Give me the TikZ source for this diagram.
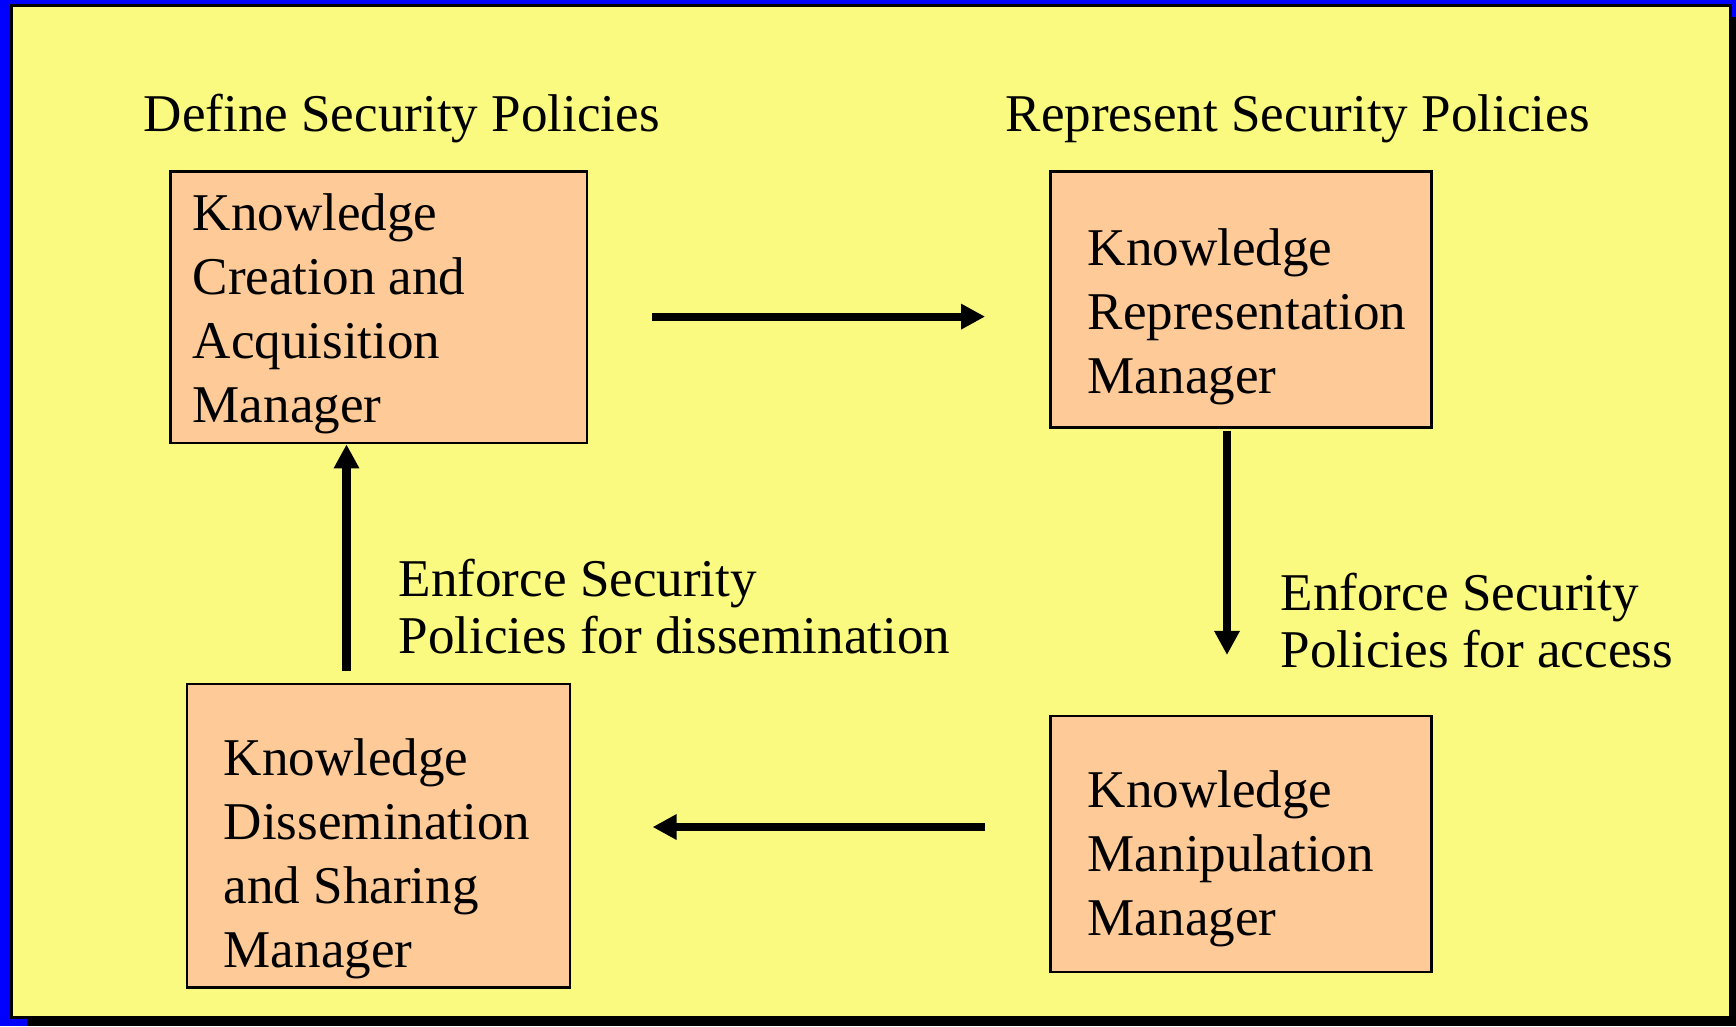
\documentclass[tikz,border=0pt]{standalone}
\usepackage{fontspec}
\setmainfont{Liberation Serif}
\usetikzlibrary{arrows.meta}
\definecolor{bgblue}{RGB}{0,0,255}
\definecolor{slide}{RGB}{250,250,128}
\definecolor{peach}{RGB}{253,202,152}
\tikzstyle{box}=[rectangle, draw, fill=peach, line width=0.7pt, inner sep=0pt]
\tikzstyle{txt}=[anchor=base west, align=left, inner sep=0pt, font=\fontsize{15.1pt}{18.2pt}\selectfont]
\tikzstyle{lbl}=[txt, font=\fontsize{15.1pt}{16pt}\selectfont]
\tikzstyle{flow}=[line width=2.3pt, -{Triangle[length=0.24cm,width=0.24cm]}]

\begin{document}
\begin{tikzpicture}[x=0.01cm, y=-0.01cm]
		\useasboundingbox (0,0) rectangle (1736,1026);
		\fill[bgblue] (0,0) rectangle (1736,1026);
		\fill[black] (27,17) rectangle (1736,1026);
		\draw[fill=slide, line width=0.85pt] (11.5,5.5) rectangle (1730,1017);

		% the four managers
		\node[box, minimum width=4.163cm, minimum height=2.714cm] (create) at (378.6,307.3) {};
		\node[box, minimum width=3.808cm, minimum height=2.558cm] (represent) at (1241.1,299.5) {};
		\node[box, minimum width=3.831cm, minimum height=3.034cm] (dissem) at (378.6,835.9) {};
		\node[box, minimum width=3.808cm, minimum height=2.558cm] (manip) at (1241.1,844.2) {};

		% text sits on the baseline of its last line
		\node[txt] (createtext) at (192,422) {Knowledge\\Creation and\\Acquisition\\Manager};
		\node[txt] (representtext) at (1087,393) {Knowledge\\Representation\\Manager};
		\node[txt] (dissemtext) at (223,967) {Knowledge\\Dissemination\\and Sharing\\Manager};
		\node[txt] (maniptext) at (1087,935) {Knowledge\\Manipulation\\Manager};

		% titles and labels
		\node[txt] (define) at (143,131) {Define Security Policies};
		\node[txt] (repr) at (1005,131) {Represent Security Policies};
		\node[lbl] (enfdis) at (398,653) {Enforce Security\\Policies for dissemination};
		\node[lbl] (enfacc) at (1280,667) {Enforce Security\\Policies for access};

		% cycle
		\draw[flow, shorten <=0.642cm, shorten >=0.642cm] (create.east |- 0,316.6) -- (represent.west |- 0,316.6);
		\draw[flow, shorten <=0.02cm, shorten >=0.6cm] (represent.south -| 1227,0) -- (manip.north -| 1227,0);
		\draw[flow, shorten <=0.642cm, shorten >=0.81cm] (manip.west |- 0,827) -- (dissem.east |- 0,827);
		\draw[flow, shorten <=0.12cm] (dissem.north -| 346.5,0) -- (create.south -| 346.5,0);
	\end{tikzpicture}
\end{document}
